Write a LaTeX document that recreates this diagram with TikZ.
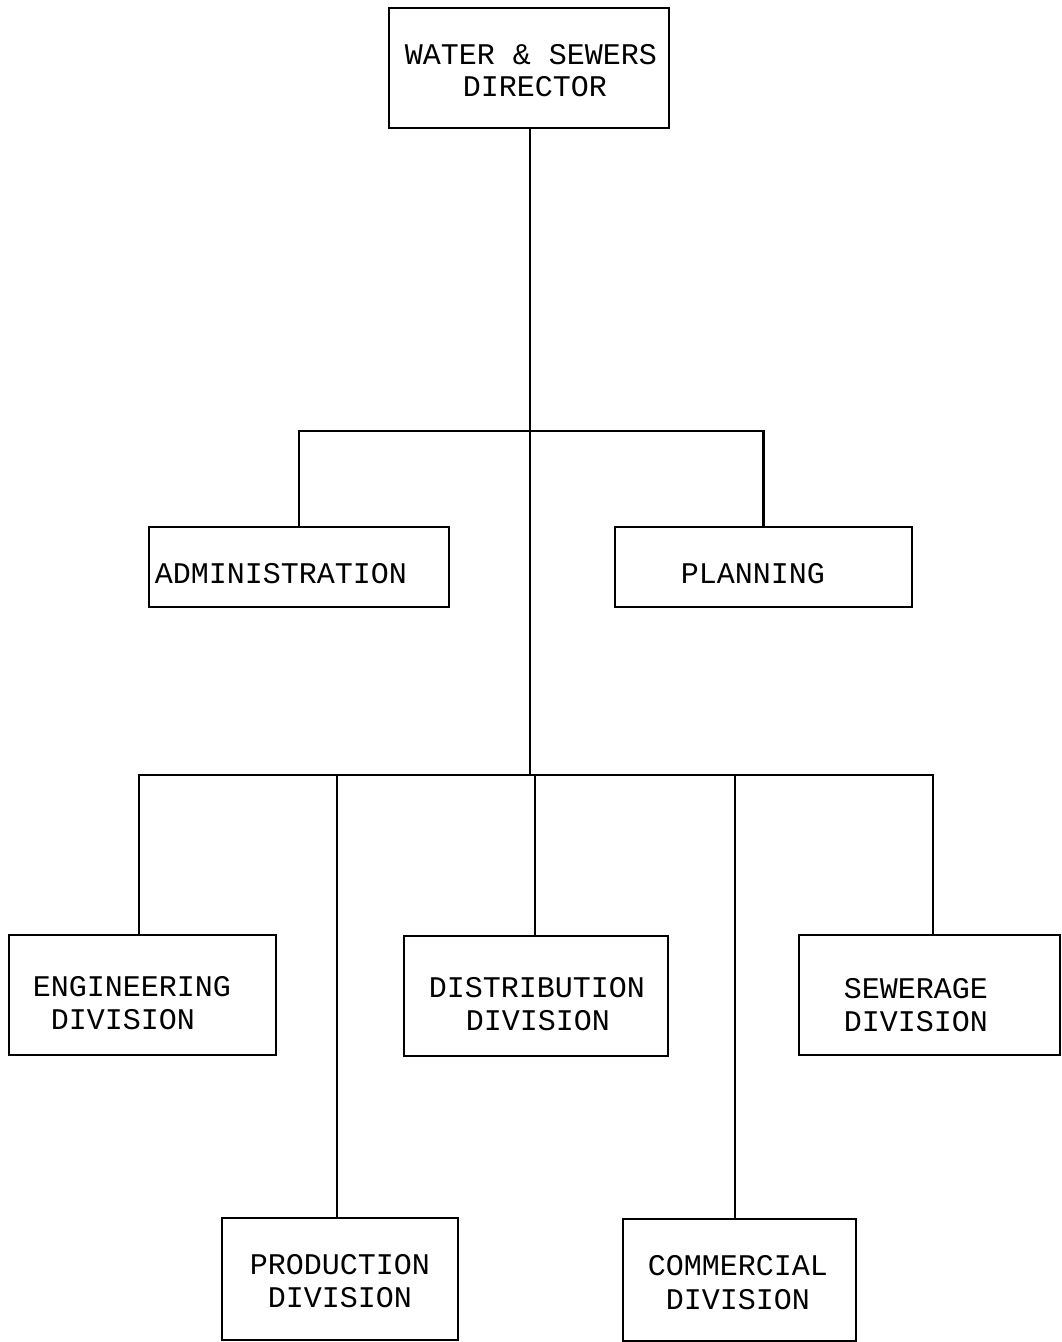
\documentclass[tikz,border=0pt]{standalone}
\usepackage{fontspec}
\setmonofont{Liberation Mono}
\begin{document}
\begin{tikzpicture}[x=1pt,y=-1pt,
  box/.style={draw=black,line width=2.8pt,rectangle,inner sep=0pt},
  lbl/.style={font=\ttfamily\fontsize{30}{33}\selectfont,inner sep=0pt,align=center},
  conn/.style={draw=black,line width=2.8pt}]
\useasboundingbox (0,0) rectangle (1062,1342);
% boxes
\node[box,minimum width=280pt,minimum height=120pt] (dir) at (529,68) {};
\node[box,minimum width=300pt,minimum height=80pt] (adm) at (299,567) {};
\node[box,minimum width=297pt,minimum height=80pt] (pla) at (763.5,567) {};
\node[box,minimum width=267pt,minimum height=120pt] (eng) at (142.5,995) {};
\node[box,minimum width=264pt,minimum height=120pt] (dis) at (536,996) {};
\node[box,minimum width=261pt,minimum height=120pt] (sew) at (929.5,995) {};
\node[box,minimum width=236pt,minimum height=122pt] (pro) at (340,1279) {};
\node[box,minimum width=233pt,minimum height=122pt] (com) at (739.5,1280) {};
% labels
\node[lbl] (tdir1) at (531,55) {WATER \& SEWERS};
\node[lbl] (tdir2) at (535,87) {DIRECTOR};
\node[lbl] (tadm) at (281,574) {ADMINISTRATION};
\node[lbl] (tpla) at (753,574) {PLANNING};
\node[lbl] (teng1) at (132,987) {ENGINEERING};
\node[lbl] (teng2) at (123,1020) {DIVISION};
\node[lbl] (tdis1) at (537,988) {DISTRIBUTION};
\node[lbl] (tdis2) at (538,1021) {DIVISION};
\node[lbl] (tsew1) at (916,989) {SEWERAGE};
\node[lbl] (tsew2) at (916,1022) {DIVISION};
\node[lbl] (tpro1) at (340,1265) {PRODUCTION};
\node[lbl] (tpro2) at (340,1298) {DIVISION};
\node[lbl] (tcom1) at (738,1266) {COMMERCIAL};
\node[lbl] (tcom2) at (738,1300) {DIVISION};
% junction points
\coordinate (j1) at (530,431);
\coordinate (j2) at (530,775);
\coordinate (de) at (139,935);
\coordinate (dp) at (337,1218);
\coordinate (dd) at (535,936);
\coordinate (dc) at (735,1219);
\coordinate (ds) at (933,935);
% connectors
\draw[conn] (dir.south -| j1) -- (j2);
\draw[conn] (adm.north) -- (adm.north |- j1) -- (pla.north |- j1) -- (pla.north);
\draw[conn,line join=miter] (de) -- (de |- j2) -- (ds |- j2) -- (ds);
\draw[conn] (dp) -- (dp |- j2);
\draw[conn] (dd) -- (dd |- j2);
\draw[conn] (dc) -- (dc |- j2);
\end{tikzpicture}
\end{document}
